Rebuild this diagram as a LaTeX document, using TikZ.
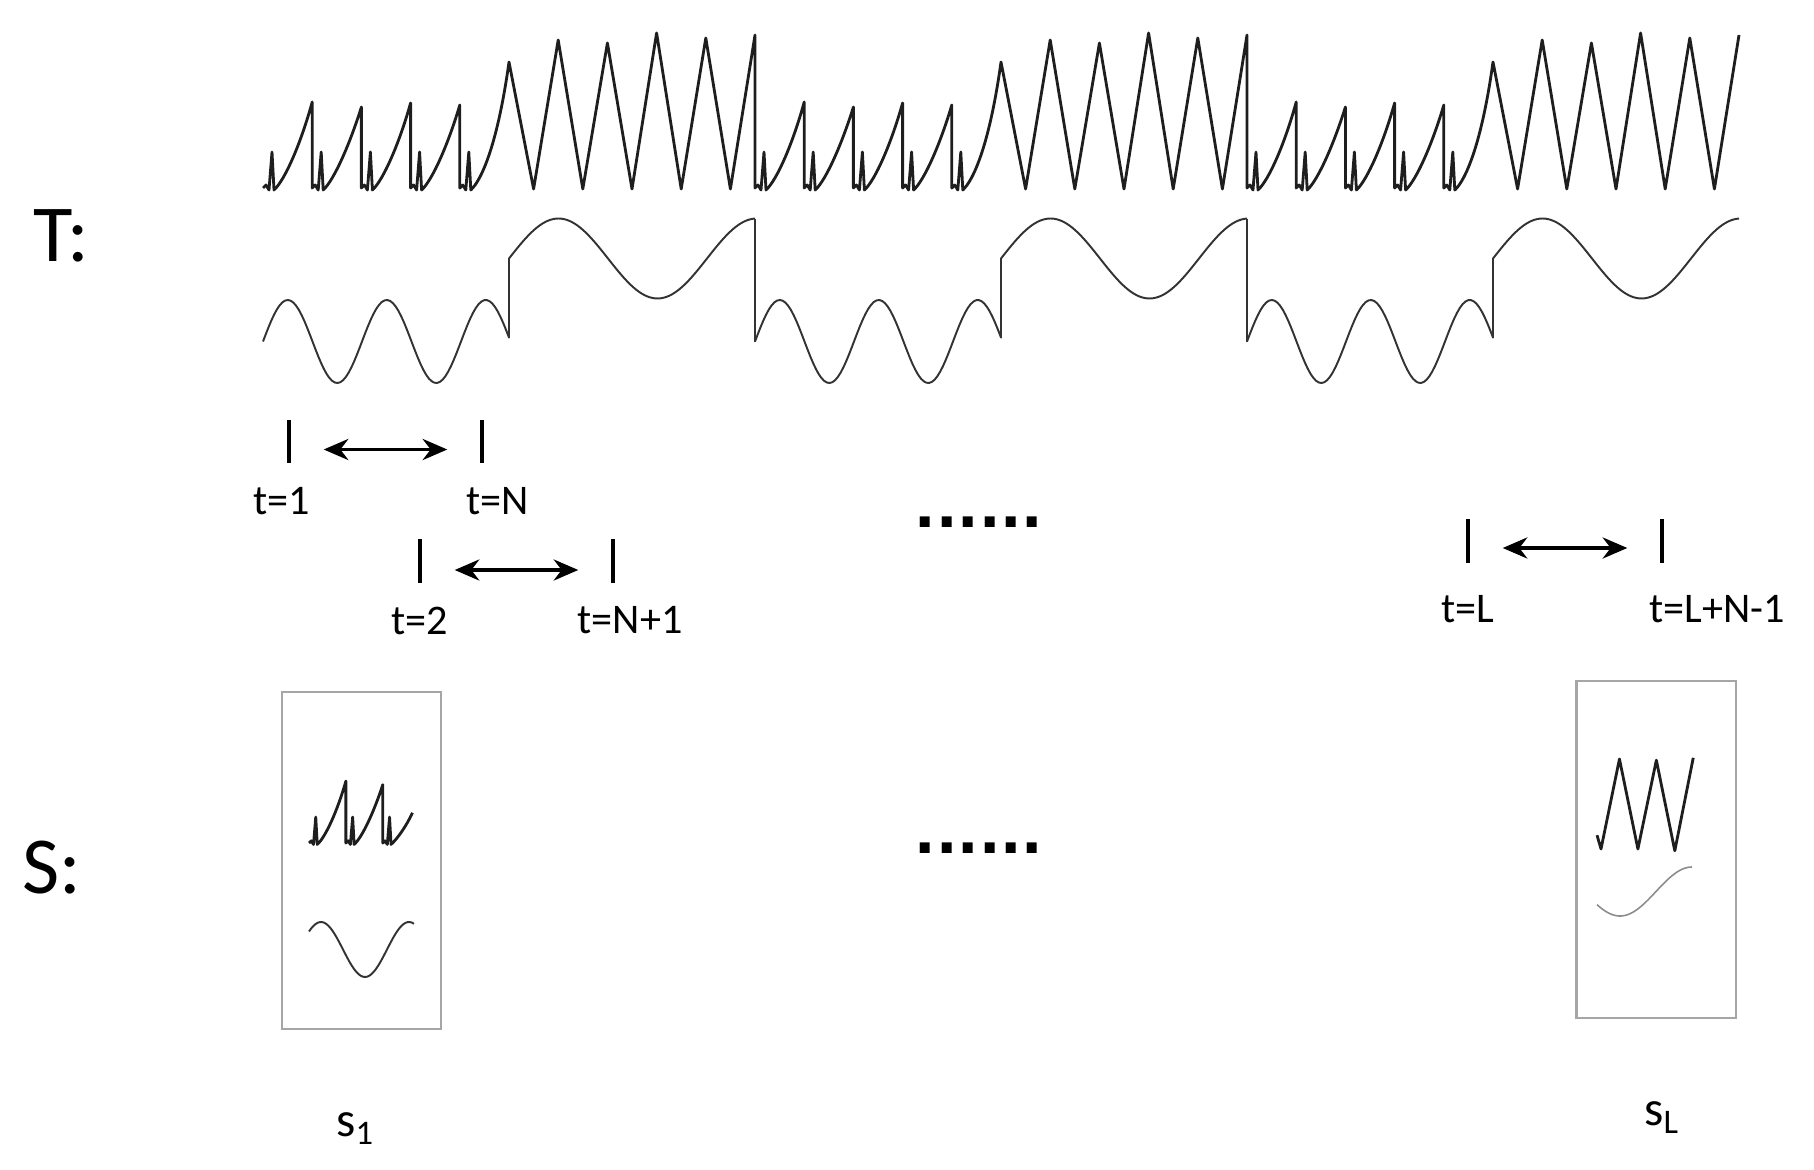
\documentclass[tikz,border=0pt]{standalone}
\usepackage{fontspec}
\setmainfont{Carlito}
\newfontfamily\dotfont{DejaVu Sans}
\usetikzlibrary{arrows.meta,positioning}
\definecolor{sigdark}{HTML}{1E1E1E}
\definecolor{wavedark}{HTML}{333333}
\definecolor{framegray}{HTML}{A6A6A6}
\definecolor{fadegray}{HTML}{8C8C8C}
\tikzset{
  sigline/.style={draw=sigdark, line width=0.8pt, line join=round},
  waveline/.style={draw=wavedark, line width=0.55pt, line join=round},
  fadeline/.style={draw=fadegray, line width=0.45pt},
  tickmark/.style={rectangle, fill=black, inner sep=0pt,
    minimum width=0.04cm, minimum height=0.43cm},
  winarrow/.style={{Stealth[length=7pt,width=6pt]}-{Stealth[length=7pt,width=6pt]},
    line width=1pt, shorten <=0.32cm, shorten >=0.32cm},
  tlabel/.style={font=\fontsize{12}{14}\selectfont},
  rowlabel/.style={font=\fontsize{23}{27}\selectfont},
  dotsrow/.style={font=\dotfont\fontsize{16}{19}\selectfont\bfseries, inner sep=0pt},
  slicebox/.style={rectangle, draw=framegray, line width=0.6pt,
    minimum width=1.59cm, minimum height=3.37cm},
  slabel/.style={font=\fontsize{14}{17}\selectfont},
}

\begin{document}
\begin{tikzpicture}[x=0.01cm, y=-0.01cm]
\useasboundingbox (0,0) rectangle (1814,1170);

\node[rowlabel] (tlab) at (61,236) {T:};
\node[rowlabel] (slab) at (52,868) {S:};

\begin{scope}[shift={(263,188)}]
\draw[sigline] (0,0) \foreach \k in {0,1,2}{
    \foreach \j/\h in {0/-86,1/-81,2/-85,3/-83,4/-126}{
      -- ({\k*492+\j*49.2},0) -- ({\k*492+\j*49.2+3},-3) -- ({\k*492+\j*49.2+6},2)
      -- ({\k*492+\j*49.2+9},-36) -- ({\k*492+\j*49.2+11},2)
      .. controls ({\k*492+\j*49.2+22},-8) and ({\k*492+\j*49.2+38},-45)
      .. ({\k*492+\j*49.2+49.2},\h)}
    \foreach \j/\h in {1/-148,2/-145,3/-155,4/-150,5/-153}{
      -- ({\k*492+246+\j*49.2-24.6},1) -- ({\k*492+246+\j*49.2},\h)}
  };
\end{scope}

\foreach \k in {0,1,2}{
  \pgfmathsetmacro\xs{263+492*\k}
  \draw[waveline] plot[domain=0:246, samples=90] ({\xs+\x},{341.5-41.5*sin(\x/99*360)})
    -- plot[domain=0:246, samples=90] ({\xs+246+\x},{258.5-40*sin(\x/198*360)});
}
\foreach \k in {1,2}
  \draw[waveline] ({263+492*\k},219) -- ({263+492*\k},342);

\node[tickmark] (a1) at (289,441.5) {};
\node[tickmark] (a2) at (482,441.5) {};
\node[tickmark] (b1) at (420,561) {};
\node[tickmark] (b2) at (613,561) {};
\node[tickmark] (c1) at (1468,541) {};
\node[tickmark] (c2) at (1662,541) {};
\draw[winarrow] ([yshift=-0.08cm]a1.east) -- ([yshift=-0.08cm]a2.west);
\draw[winarrow] ([yshift=-0.09cm]b1.east) -- ([yshift=-0.09cm]b2.west);
\draw[winarrow] ([yshift=-0.07cm]c1.east) -- ([yshift=-0.07cm]c2.west);
\node[tlabel, below=0.11cm of a1, xshift=-0.07cm] (la1) {t=1};
\node[tlabel, below=0.11cm of a2, xshift=0.16cm] (la2) {t=N};
\node[tlabel, below=0.11cm of b1] (lb1) {t=2};
\node[tlabel, below=0.11cm of b2, xshift=0.17cm] (lb2) {t=N+1};
\node[tlabel, below=0.2cm of c1] (lc1) {t=L};
\node[tlabel, below=0.2cm of c2, xshift=0.55cm] (lc2) {t=L+N-1};

\node[dotsrow] (gap1) at (979,522) {......};
\node[dotsrow] (gap2) at (979,848) {......};

\node[slicebox] (box1) at (361.5,860.5) {};
\node[slicebox] (boxL) at (1656,849.5) {};
\node[slabel, below=0.7cm of box1, xshift=-0.06cm] (s1) {s\textsubscript{1}};
\node[slabel, below=0.7cm of boxL, xshift=0.06cm] (sL) {s\textsubscript{L}};

\begin{scope}[shift={(309,843)}, xscale=0.75, yscale=0.72]
\draw[sigline] (0,0) \foreach \j/\h in {0/-86,1/-81}{
      -- ({\j*49.2},0) -- ({\j*49.2+3},-3) -- ({\j*49.2+6},2)
      -- ({\j*49.2+9},-36) -- ({\j*49.2+11},2)
      .. controls ({\j*49.2+22},-8) and ({\j*49.2+38},-45) .. ({\j*49.2+49.2},\h)}
  -- (98.4,0) -- (101.4,-3) -- (104.4,2) -- (107.4,-36) -- (109.4,2)
  .. controls (118,-6) and (130,-24) .. (138,-42);
\end{scope}
\draw[waveline] plot[domain=309:414, samples=50] (\x,{949.5-27.5*cos((\x-321)/44*180)});

\begin{scope}[shift={(1601,849)}, xscale=0.75, yscale=0.6]
\draw[sigline] (-5.3,-23) -- (0,0) -- (24.6,-150) -- (49.2,0) -- (73.8,-148)
  -- (98.4,3) -- (123,-152);
\end{scope}
\draw[fadeline] plot[domain=1597:1692, samples=40] (\x,{891.5+24.5*cos((\x-1620)/72*180)});
\end{tikzpicture}
\end{document}
